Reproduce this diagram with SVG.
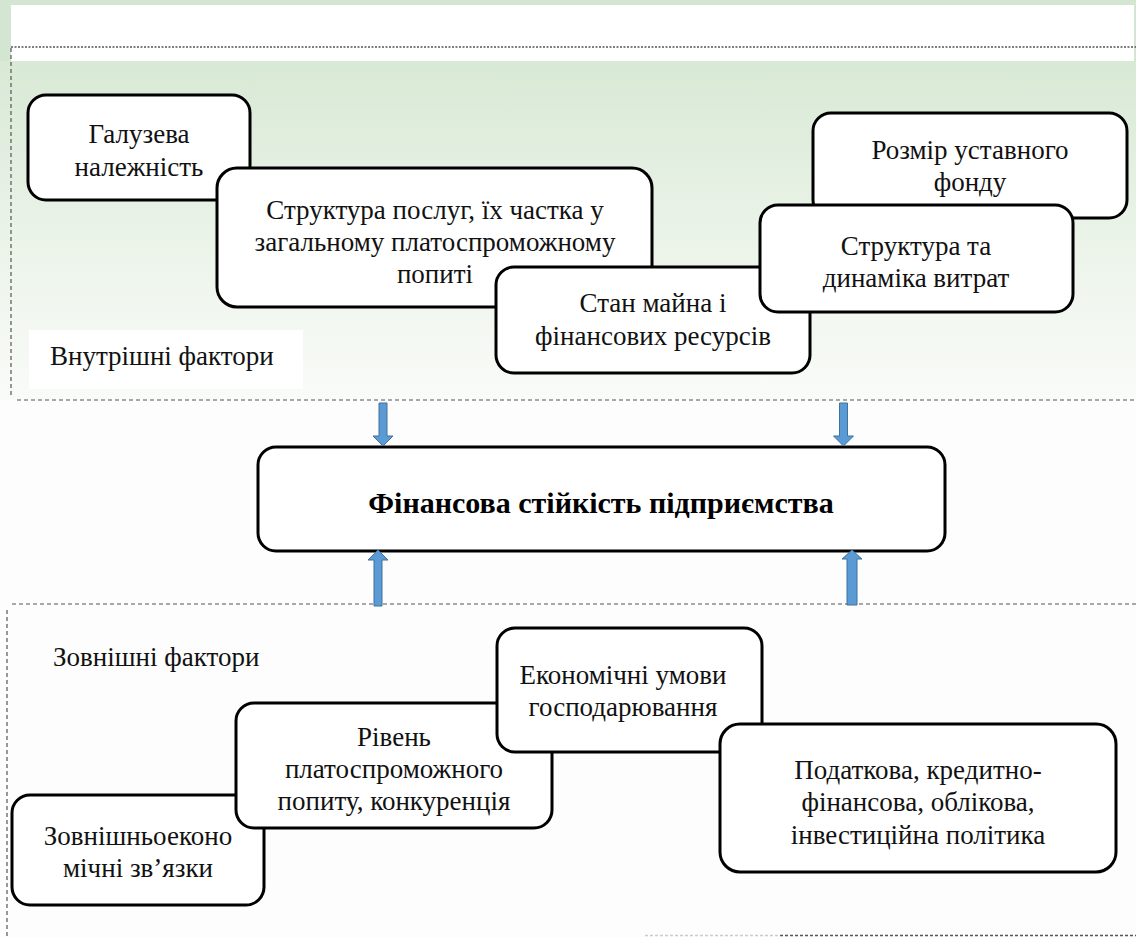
<svg xmlns="http://www.w3.org/2000/svg" width="1136" height="937" viewBox="0 0 1136 937" font-family="Liberation Serif">
<defs>
<linearGradient id="bg" x1="0" y1="0" x2="0" y2="1">
<stop offset="0" stop-color="#d8e9d5"/>
<stop offset="0.55" stop-color="#ecf4ea"/>
<stop offset="1" stop-color="#f9fbf8"/>
</linearGradient>
</defs>
<rect x="0" y="0" width="1136" height="937" fill="#fdfdfd"/>
<rect x="0" y="0" width="1136" height="61" fill="#d3e6d2"/>
<rect x="0" y="61" width="1136" height="339" fill="url(#bg)"/>
<rect x="11" y="5" width="1123" height="56" fill="#fff"/>
<rect x="29" y="330" width="274" height="59" fill="#fff"/>
<g fill="none" stroke="#555" stroke-width="1.2" stroke-dasharray="4 3">
<line x1="11" y1="47" x2="1136" y2="47" stroke-dasharray="2 1.5" stroke-width="1.5"/>
<line x1="11" y1="48" x2="11" y2="396"/>
<line x1="17" y1="400" x2="1136" y2="400"/>
<line x1="12" y1="604" x2="1136" y2="604"/>
<line x1="7" y1="610" x2="7" y2="937"/>
<line x1="645" y1="935.5" x2="780" y2="935.5" stroke="#ccc" stroke-width="1.5" stroke-dasharray="3 2"/>
<line x1="780" y1="935.5" x2="1136" y2="935.5" stroke-width="1.5" stroke-dasharray="3 2"/>
</g>
<text x="50" y="365" font-family="Liberation Serif" font-size="27" fill="#111">Внутрішні фактори</text>
<text x="53" y="666" font-family="Liberation Serif" font-size="27" fill="#111">Зовнішні фактори</text>
<g id="n-galuzeva">
<rect x="28" y="95" width="222" height="105" rx="18" fill="#fff" stroke="#000" stroke-width="3"/>
<text x="139" y="143" font-family="Liberation Serif" font-size="27" fill="#111" text-anchor="middle">Галузева</text>
<text x="139" y="176" font-family="Liberation Serif" font-size="27" fill="#111" text-anchor="middle">належність</text>
</g>
<g id="n-struktura-poslug">
<rect x="217" y="168" width="435" height="139" rx="20" fill="#fff" stroke="#000" stroke-width="3"/>
<text x="435" y="219" font-family="Liberation Serif" font-size="27" fill="#111" text-anchor="middle">Структура послуг, їх частка у</text>
<text x="435" y="251" font-family="Liberation Serif" font-size="27" fill="#111" text-anchor="middle">загальному платоспроможному</text>
<text x="435" y="283" font-family="Liberation Serif" font-size="27" fill="#111" text-anchor="middle">попиті</text>
</g>
<g id="n-stan-maina">
<rect x="496" y="267" width="314" height="106" rx="18" fill="#fff" stroke="#000" stroke-width="3"/>
<text x="653" y="312" font-family="Liberation Serif" font-size="27" fill="#111" text-anchor="middle">Стан майна і</text>
<text x="653" y="345" font-family="Liberation Serif" font-size="27" fill="#111" text-anchor="middle">фінансових ресурсів</text>
</g>
<g id="n-rozmir">
<rect x="813" y="113" width="314" height="105" rx="18" fill="#fff" stroke="#000" stroke-width="3"/>
<text x="970" y="159" font-family="Liberation Serif" font-size="27" fill="#111" text-anchor="middle">Розмір уставного</text>
<text x="970" y="191" font-family="Liberation Serif" font-size="27" fill="#111" text-anchor="middle">фонду</text>
</g>
<g id="n-struktura-vytrat">
<rect x="760" y="205" width="313" height="107" rx="18" fill="#fff" stroke="#000" stroke-width="3"/>
<text x="916" y="255" font-family="Liberation Serif" font-size="27" fill="#111" text-anchor="middle">Структура та</text>
<text x="916" y="287" font-family="Liberation Serif" font-size="27" fill="#111" text-anchor="middle">динаміка витрат</text>
</g>
<g id="n-center">
<rect x="258" y="447" width="687" height="104" rx="18" fill="#fff" stroke="#000" stroke-width="3"/>
<text x="601" y="513" font-family="Liberation Serif" font-size="30" font-weight="bold" fill="#000" text-anchor="middle">Фінансова стійкість підприємства</text>
</g>
<g id="n-zovnishnio">
<rect x="12" y="795" width="252" height="110" rx="18" fill="#fff" stroke="#000" stroke-width="3"/>
<text x="138" y="845" font-family="Liberation Serif" font-size="27" fill="#111" text-anchor="middle">Зовнішньоеконо</text>
<text x="138" y="877" font-family="Liberation Serif" font-size="27" fill="#111" text-anchor="middle">мічні зв’язки</text>
</g>
<g id="n-riven">
<rect x="236" y="703" width="316" height="125" rx="18" fill="#fff" stroke="#000" stroke-width="3"/>
<text x="394" y="746" font-family="Liberation Serif" font-size="27" fill="#111" text-anchor="middle">Рівень</text>
<text x="394" y="778" font-family="Liberation Serif" font-size="27" fill="#111" text-anchor="middle">платоспроможного</text>
<text x="394" y="810" font-family="Liberation Serif" font-size="27" fill="#111" text-anchor="middle">попиту, конкуренція</text>
</g>
<g id="n-ekonom">
<rect x="497" y="628" width="265" height="124" rx="18" fill="#fff" stroke="#000" stroke-width="3"/>
<text x="623" y="684" font-family="Liberation Serif" font-size="27" fill="#111" text-anchor="middle">Економічні умови</text>
<text x="623" y="716" font-family="Liberation Serif" font-size="27" fill="#111" text-anchor="middle">господарювання</text>
</g>
<g id="n-podatkova">
<rect x="720" y="724" width="396" height="148" rx="20" fill="#fff" stroke="#000" stroke-width="3"/>
<text x="918" y="779" font-family="Liberation Serif" font-size="27" fill="#111" text-anchor="middle">Податкова, кредитно-</text>
<text x="918" y="811" font-family="Liberation Serif" font-size="27" fill="#111" text-anchor="middle">фінансова, облікова,</text>
<text x="918" y="844" font-family="Liberation Serif" font-size="27" fill="#111" text-anchor="middle">інвестиційна політика</text>
</g>
<g id="connectors" fill="#5b9bd5" stroke="#41719c" stroke-width="1">
<polygon points="379,403 387,403 387,436 393,436 383,446 373,436 379,436"/>
<polygon points="839.5,403 847.5,403 847.5,436 853.5,436 843.5,446 833.5,436 839.5,436"/>
<polygon points="374,606 382,606 382,560 388,560 378,550 368,560 374,560"/>
<polygon points="847,605 857,605 857,559 862,559 852,550 842,559 847,559"/>
</g>
</svg>
